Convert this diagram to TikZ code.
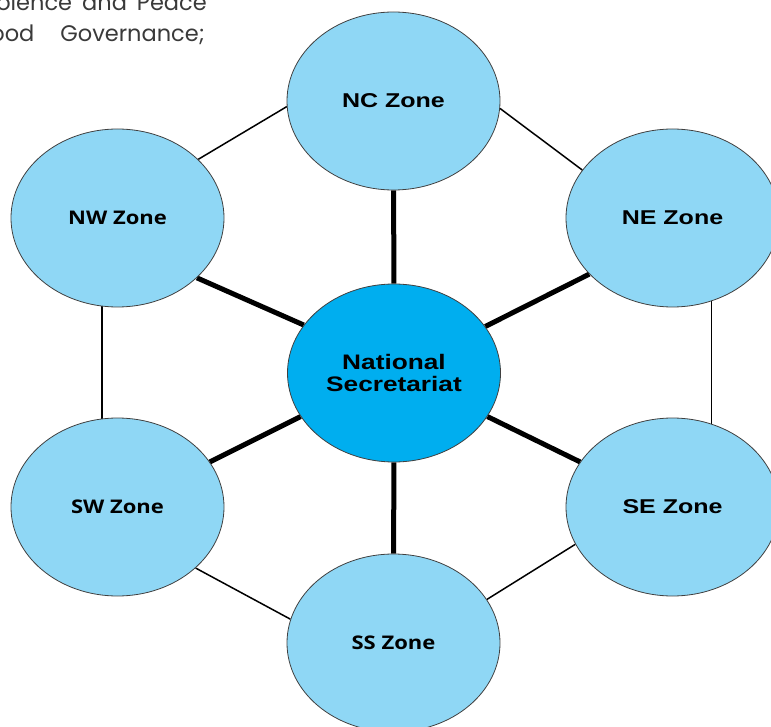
\documentclass[tikz,border=0pt]{standalone}
\usepackage{fontspec}
\setmainfont{Liberation Sans}
\newfontfamily\zonefont[FakeStretch=1.25]{Liberation Sans}
\newfontfamily\zonefontalt[FakeStretch=1.17]{Open Sans}
\newfontfamily\pagefont{Poppins}
\usepackage{xcolor}
\usepackage{tikz}
\usetikzlibrary{shapes.geometric, backgrounds}
\definecolor{HubBlue}{HTML}{00AEEF}
\definecolor{ZoneBlue}{HTML}{8FD7F5}
\definecolor{RimGray}{HTML}{404040}
\definecolor{PageGray}{HTML}{3A3A3A}
\tikzset{
    zonebox/.style={ellipse, minimum width=213pt, minimum height=178pt, inner sep=0pt,
        draw=RimGray, line width=0.8pt, fill=ZoneBlue,
        font=\zonefont\bfseries\fontsize{20}{22}\selectfont},
    zonealt/.style={zonebox, font=\zonefontalt\bfseries\fontsize{18.8}{21}\selectfont},
    hubbox/.style={zonebox, fill=HubBlue, align=center,
        font=\zonefont\bfseries\fontsize{21}{22.4}\selectfont},
    spoke/.style={line width=5pt, black},
    rimline/.style={line width=1.5pt, black},
    pagetext/.style={anchor=base east, inner sep=0pt, text=PageGray,
        font=\pagefont\fontsize{22.5}{31}\selectfont},
}

\begin{document}
\begin{tikzpicture}[x=1pt, y=-1pt]
    \useasboundingbox (0,0) rectangle (771,727);
    \clip (0,0) rectangle (771,727);
    % page text cut off at the top left
    \node[pagetext] (line1) at (207,10.5) {Violence\hspace{4pt} and\hspace{4pt} Peace};
    \node[pagetext] (line2) at (205,41.7) {Good\hspace{20pt} Governance;};

    \node[hubbox] (hub) at (394,373) {National\\Secretariat};
    \node[zonebox] (nc) at (393.5,101) {NC Zone};
    \node[zonealt] (nw) at (117.5,218) {NW Zone};
    \node[zonebox] (ne) at (672.5,218) {NE Zone};
    \node[zonealt] (sw) at (117.5,507) {SW Zone};
    \node[zonebox] (se) at (672.5,507) {SE Zone};
    \node[zonealt] (ss) at (393.5,643) {SS Zone};

    \begin{scope}[on background layer]
        \draw[spoke] (nc) -- (hub);
        \draw[spoke] (nw.-37) -- (hub.152);
        \draw[spoke] (ne.214) -- (hub.27);
        \draw[spoke] (sw.26) -- (hub.205);
        \draw[spoke] (se.154) -- (hub.-25);
        \draw[spoke] (hub) -- (ss);

        \draw[rimline] (nw.36) -- (nc.183);
        \draw[rimline] (nc.-4) -- (ne.152);
        \draw[rimline] (nw.-100) -- (sw.100);
        \draw[rimline] (ne.-65) -- (se.65);
        \draw[rimline] (sw.-38) -- (ss.167);
        \draw[rimline] (ss.25) -- (se.201);
    \end{scope}
\end{tikzpicture}
\end{document}
